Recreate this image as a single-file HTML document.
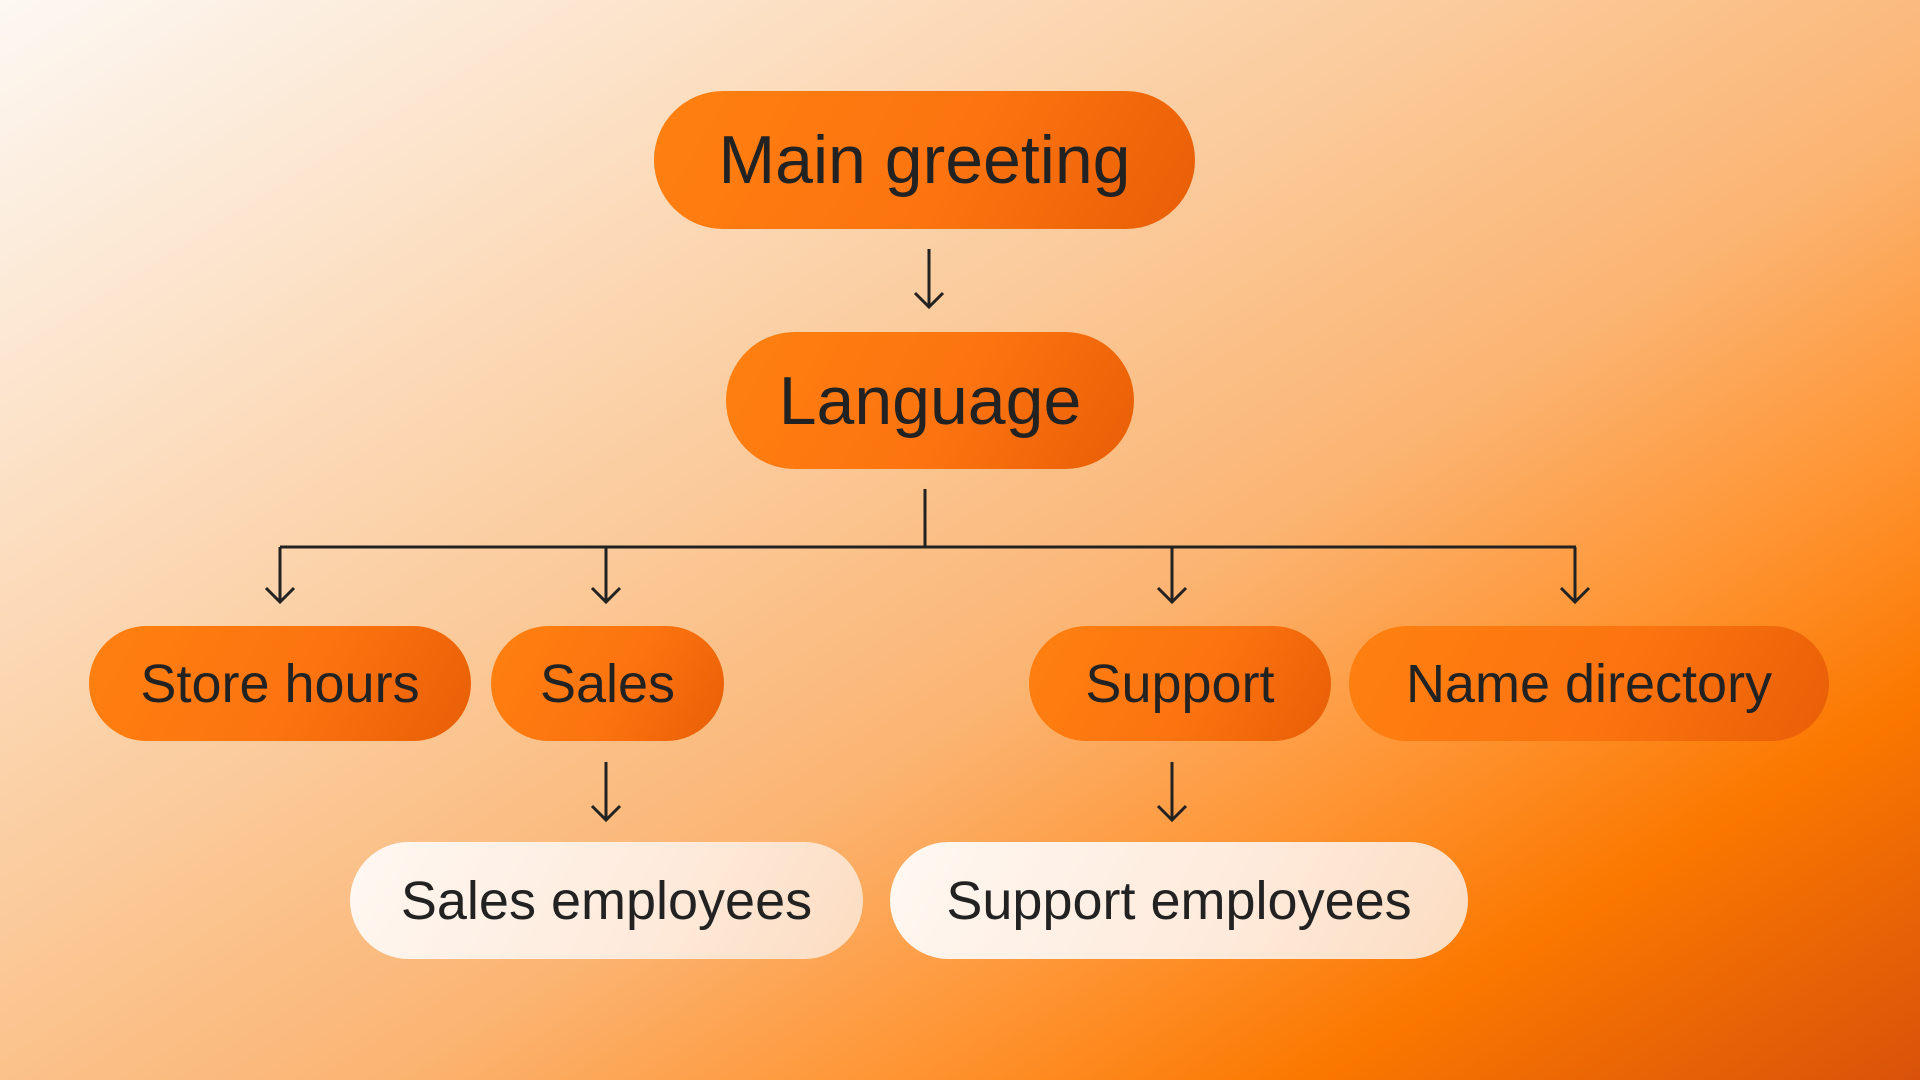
<!DOCTYPE html>
<html><head><style>
html,body{margin:0;padding:0}
body{width:1920px;height:1080px;position:relative;overflow:hidden;font-family:"Liberation Sans",sans-serif;
background:linear-gradient(148deg,#fdf8f3 0%,#fce2c8 20%,#fbcb9c 40%,#fbb472 58%,#ff9432 72%,#fb7800 83%,#d9520a 100%);}
.p{position:absolute;display:flex;align-items:center;justify-content:center;border-radius:80px;color:#222;
background:linear-gradient(120deg,#ff8010 0%,#fc7410 55%,#e85e06 100%);white-space:nowrap}
.l{background:linear-gradient(120deg,#fff8f2 0%,#feeadb 60%,#fcdcc0 100%)}
svg{position:absolute;left:0;top:0}
</style></head><body>
<div class="p" style="left:654px;top:91px;width:541px;height:138px;font-size:68px">Main greeting</div>
<div class="p" style="left:726px;top:332px;width:408px;height:137px;font-size:68px">Language</div>
<div class="p" style="left:89px;top:626px;width:382px;height:115px;font-size:54px">Store hours</div>
<div class="p" style="left:491px;top:626px;width:233px;height:115px;font-size:54px">Sales</div>
<div class="p" style="left:1029px;top:626px;width:302px;height:115px;font-size:54px">Support</div>
<div class="p" style="left:1349px;top:626px;width:480px;height:115px;font-size:54px">Name directory</div>
<div class="p l" style="left:350px;top:842px;width:513px;height:117px;font-size:54px">Sales employees</div>
<div class="p l" style="left:890px;top:842px;width:578px;height:117px;font-size:54px">Support employees</div>
<svg width="1920" height="1080" fill="none" stroke="#222" stroke-width="3">
<path d="M929 249V307M915 293L929 307L943 293"/>
<path d="M925 489V547M280 547H1576"/>
<path d="M280 547V602M266 588L280 602L294 588"/>
<path d="M606 547V602M592 588L606 602L620 588"/>
<path d="M1172 547V602M1158 588L1172 602L1186 588"/>
<path d="M1575 547V602M1561 588L1575 602L1589 588"/>
<path d="M606 762V820M592 806L606 820L620 806"/>
<path d="M1172 762V820M1158 806L1172 820L1186 806"/>
</svg>
</body></html>
